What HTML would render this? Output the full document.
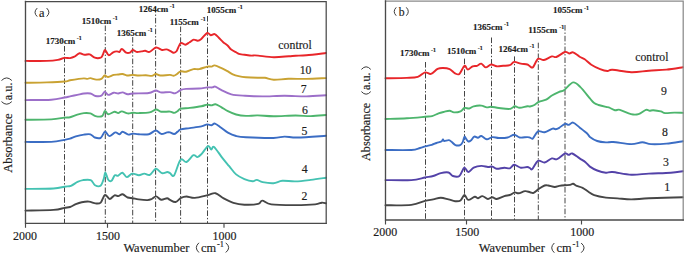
<!DOCTYPE html>
<html><head><meta charset="utf-8"><title>FTIR spectra</title>
<style>html,body{margin:0;padding:0;background:#fff;width:685px;height:254px;overflow:hidden}svg{display:block}</style>
</head><body>
<svg width="685" height="254" viewBox="0 0 685 254">
<style>text{stroke:#1c1c1c;stroke-width:0.17px;paint-order:stroke}text[font-weight=bold]{stroke-width:0.15px}</style>
<rect width="685" height="254" fill="#fff"/>
<line x1="64.5" y1="46.0" x2="64.5" y2="223.3" stroke="#444" stroke-width="1" stroke-dasharray="5.6 1.9 1.4 1.9"/>
<line x1="105.3" y1="25.5" x2="105.3" y2="223.3" stroke="#444" stroke-width="1" stroke-dasharray="5.6 1.9 1.4 1.9"/>
<line x1="132.7" y1="37.0" x2="132.7" y2="223.3" stroke="#444" stroke-width="1" stroke-dasharray="5.6 1.9 1.4 1.9"/>
<line x1="155.6" y1="7.0" x2="155.6" y2="223.3" stroke="#444" stroke-width="1" stroke-dasharray="5.6 1.9 1.4 1.9"/>
<line x1="180.6" y1="26.5" x2="180.6" y2="223.3" stroke="#444" stroke-width="1" stroke-dasharray="5.6 1.9 1.4 1.9"/>
<line x1="207.5" y1="16.0" x2="207.5" y2="223.3" stroke="#444" stroke-width="1" stroke-dasharray="5.6 1.9 1.4 1.9"/>
<line x1="425.5" y1="62.0" x2="425.5" y2="220.0" stroke="#444" stroke-width="1" stroke-dasharray="5.6 1.9 1.4 1.9"/>
<line x1="464.5" y1="58.6" x2="464.5" y2="220.0" stroke="#444" stroke-width="1" stroke-dasharray="5.6 1.9 1.4 1.9"/>
<line x1="491.5" y1="37.5" x2="491.5" y2="220.0" stroke="#444" stroke-width="1" stroke-dasharray="5.6 1.9 1.4 1.9"/>
<line x1="514.5" y1="56.4" x2="514.5" y2="220.0" stroke="#444" stroke-width="1" stroke-dasharray="5.6 1.9 1.4 1.9"/>
<line x1="538.3" y1="42.7" x2="538.3" y2="220.0" stroke="#444" stroke-width="1" stroke-dasharray="5.6 1.9 1.4 1.9"/>
<line x1="565.0" y1="25.0" x2="565.0" y2="220.0" stroke="#444" stroke-width="1" stroke-dasharray="5.6 1.9 1.4 1.9"/>
<path d="M25.50,60.90 C29.07,60.90 41.52,61.07 46.90,60.90 C52.28,60.73 54.88,60.40 57.80,59.90 C60.72,59.40 62.37,58.20 64.40,57.90 C66.43,57.60 68.33,58.30 70.00,58.10 C71.67,57.90 72.82,57.50 74.40,56.70 C75.98,55.90 77.80,53.62 79.50,53.30 C81.20,52.98 82.90,54.63 84.60,54.80 C86.30,54.97 88.00,53.82 89.70,54.30 C91.40,54.78 92.97,57.13 94.80,57.70 C96.63,58.27 99.37,58.18 100.70,57.70 C102.03,57.22 102.08,56.08 102.80,54.80 C103.52,53.52 104.02,49.93 105.00,50.00 C105.98,50.07 107.35,54.82 108.70,55.20 C110.05,55.58 111.77,52.93 113.10,52.30 C114.43,51.67 115.62,51.47 116.70,51.40 C117.78,51.33 118.75,52.32 119.60,51.90 C120.45,51.48 120.70,48.78 121.80,48.90 C122.90,49.02 124.85,51.98 126.20,52.60 C127.55,53.22 128.80,53.03 129.90,52.60 C131.00,52.17 131.72,50.12 132.80,50.00 C133.88,49.88 134.95,51.67 136.40,51.90 C137.85,52.13 140.03,51.58 141.50,51.40 C142.97,51.22 143.85,50.72 145.20,50.80 C146.55,50.88 147.78,52.45 149.60,51.90 C151.42,51.35 154.03,47.82 156.10,47.50 C158.17,47.18 160.28,49.68 162.00,50.00 C163.72,50.32 165.07,49.27 166.40,49.40 C167.73,49.53 168.80,50.25 170.00,50.80 C171.20,51.35 172.52,52.62 173.60,52.70 C174.68,52.78 175.33,52.88 176.50,51.30 C177.67,49.72 179.13,44.30 180.60,43.20 C182.07,42.10 183.80,44.87 185.30,44.70 C186.80,44.53 188.20,43.05 189.60,42.20 C191.00,41.35 192.35,39.83 193.70,39.60 C195.05,39.37 196.43,40.92 197.70,40.80 C198.97,40.68 199.72,40.20 201.30,38.90 C202.88,37.60 205.62,33.62 207.20,33.00 C208.78,32.38 209.55,35.02 210.80,35.20 C212.05,35.38 213.37,33.67 214.70,34.10 C216.03,34.53 217.38,36.45 218.80,37.80 C220.22,39.15 221.73,40.92 223.20,42.20 C224.67,43.48 226.27,44.27 227.60,45.50 C228.93,46.73 229.73,48.43 231.20,49.60 C232.67,50.77 234.93,51.73 236.40,52.50 C237.87,53.27 238.63,53.82 240.00,54.20 C241.37,54.58 242.67,54.57 244.60,54.80 C246.53,55.03 250.02,55.50 251.60,55.60 C253.18,55.70 253.00,55.40 254.10,55.40 C255.20,55.40 254.92,55.30 258.20,55.60 C261.48,55.90 268.68,57.10 273.80,57.20 C278.92,57.30 285.25,56.45 288.90,56.20 C292.55,55.95 292.78,55.87 295.70,55.70 C298.62,55.53 301.35,55.65 306.40,55.20 C311.45,54.75 322.73,53.37 326.00,53.00" fill="none" stroke="#e8262a" stroke-width="1.9" stroke-linejoin="round" stroke-linecap="round"/>
<path d="M25.50,82.80 C29.07,82.73 40.42,82.62 46.90,82.40 C53.38,82.18 60.55,81.85 64.40,81.50 C68.25,81.15 67.60,80.73 70.00,80.30 C72.40,79.87 76.48,79.22 78.80,78.90 C81.12,78.58 82.45,78.40 83.90,78.40 C85.35,78.40 86.42,78.95 87.50,78.90 C88.58,78.85 88.93,77.98 90.40,78.10 C91.87,78.22 94.47,79.47 96.30,79.60 C98.13,79.73 100.00,79.58 101.40,78.90 C102.80,78.22 103.57,75.82 104.70,75.50 C105.83,75.18 106.68,77.10 108.20,77.00 C109.72,76.90 112.13,75.32 113.80,74.90 C115.47,74.48 116.73,74.65 118.20,74.50 C119.67,74.35 121.15,73.83 122.60,74.00 C124.05,74.17 125.20,75.35 126.90,75.50 C128.60,75.65 130.85,74.90 132.80,74.90 C134.75,74.90 136.42,75.45 138.60,75.50 C140.78,75.55 143.70,75.13 145.90,75.20 C148.10,75.27 150.15,76.10 151.80,75.90 C153.45,75.70 154.35,74.07 155.80,74.00 C157.25,73.93 158.13,75.35 160.50,75.50 C162.87,75.65 167.82,74.85 170.00,74.90 C172.18,74.95 172.50,75.90 173.60,75.80 C174.70,75.70 175.45,75.03 176.60,74.30 C177.75,73.57 178.92,71.83 180.50,71.40 C182.08,70.97 183.95,72.08 186.10,71.70 C188.25,71.32 191.22,69.53 193.40,69.10 C195.58,68.67 196.90,69.52 199.20,69.10 C201.50,68.68 205.13,67.02 207.20,66.60 C209.27,66.18 210.38,66.80 211.60,66.60 C212.82,66.40 213.03,65.23 214.50,65.40 C215.97,65.57 218.33,66.68 220.40,67.60 C222.47,68.52 224.83,69.78 226.90,70.90 C228.97,72.02 230.85,73.43 232.80,74.30 C234.75,75.17 236.42,75.62 238.60,76.10 C240.78,76.58 242.73,76.92 245.90,77.20 C249.07,77.48 254.43,77.70 257.60,77.80 C260.77,77.90 262.20,77.47 264.90,77.80 C267.60,78.13 269.88,79.63 273.80,79.80 C277.72,79.97 282.97,78.95 288.40,78.80 C293.83,78.65 300.13,79.02 306.40,78.90 C312.67,78.78 322.73,78.23 326.00,78.10" fill="none" stroke="#c9a232" stroke-width="1.9" stroke-linejoin="round" stroke-linecap="round"/>
<path d="M25.50,100.10 C29.80,100.03 44.82,100.13 51.30,99.70 C57.78,99.27 61.28,98.05 64.40,97.50 C67.52,96.95 67.85,96.83 70.00,96.40 C72.15,95.97 74.98,95.38 77.30,94.90 C79.62,94.42 81.72,93.73 83.90,93.50 C86.08,93.27 88.47,93.08 90.40,93.50 C92.33,93.92 93.67,95.63 95.50,96.00 C97.33,96.37 99.87,96.43 101.40,95.70 C102.93,94.97 103.57,91.73 104.70,91.60 C105.83,91.47 106.68,94.72 108.20,94.90 C109.72,95.08 112.13,92.93 113.80,92.70 C115.47,92.47 116.73,93.55 118.20,93.50 C119.67,93.45 121.02,92.28 122.60,92.40 C124.18,92.52 126.00,94.02 127.70,94.20 C129.40,94.38 129.28,93.70 132.80,93.50 C136.32,93.30 144.97,93.50 148.80,93.00 C152.63,92.50 153.85,90.60 155.80,90.50 C157.75,90.40 158.13,92.13 160.50,92.40 C162.87,92.67 167.57,91.95 170.00,92.10 C172.43,92.25 173.28,93.67 175.10,93.30 C176.92,92.93 179.07,90.63 180.90,89.90 C182.73,89.17 183.05,89.13 186.10,88.90 C189.15,88.67 195.68,88.75 199.20,88.50 C202.72,88.25 205.02,87.58 207.20,87.40 C209.38,87.22 210.95,87.53 212.30,87.40 C213.65,87.27 213.83,86.18 215.30,86.60 C216.77,87.02 218.43,88.62 221.10,89.90 C223.77,91.18 227.32,93.32 231.30,94.30 C235.28,95.28 239.78,95.45 245.00,95.80 C250.22,96.15 256.02,96.40 262.60,96.40 C269.18,96.40 277.20,95.80 284.50,95.80 C291.80,95.80 299.48,96.48 306.40,96.40 C313.32,96.32 322.73,95.48 326.00,95.30" fill="none" stroke="#9c6fc9" stroke-width="1.9" stroke-linejoin="round" stroke-linecap="round"/>
<path d="M25.50,119.80 C29.80,119.73 44.82,119.77 51.30,119.40 C57.78,119.03 61.28,117.97 64.40,117.60 C67.52,117.23 67.85,117.70 70.00,117.20 C72.15,116.70 74.98,115.28 77.30,114.60 C79.62,113.92 81.72,113.30 83.90,113.10 C86.08,112.90 88.47,112.90 90.40,113.40 C92.33,113.90 93.55,115.65 95.50,116.10 C97.45,116.55 100.52,116.97 102.10,116.10 C103.68,115.23 103.98,111.20 105.00,110.90 C106.02,110.60 106.62,114.17 108.20,114.30 C109.78,114.43 112.83,111.90 114.50,111.70 C116.17,111.50 116.98,113.15 118.20,113.10 C119.42,113.05 120.22,111.35 121.80,111.40 C123.38,111.45 125.87,113.17 127.70,113.40 C129.53,113.63 130.98,112.85 132.80,112.80 C134.62,112.75 135.80,113.17 138.60,113.10 C141.40,113.03 146.68,113.00 149.60,112.40 C152.52,111.80 154.17,109.62 156.10,109.50 C158.03,109.38 158.88,111.35 161.20,111.70 C163.52,112.05 167.85,111.40 170.00,111.60 C172.15,111.80 172.87,112.97 174.10,112.90 C175.33,112.83 176.30,111.90 177.40,111.20 C178.50,110.50 178.63,109.25 180.70,108.70 C182.77,108.15 186.35,108.30 189.80,107.90 C193.25,107.50 198.50,106.85 201.40,106.30 C204.30,105.75 205.55,104.75 207.20,104.60 C208.85,104.45 209.92,105.45 211.30,105.40 C212.68,105.35 213.85,104.02 215.50,104.30 C217.15,104.58 219.13,105.95 221.20,107.10 C223.27,108.25 225.42,109.97 227.90,111.20 C230.38,112.43 233.08,113.72 236.10,114.50 C239.12,115.28 242.42,115.75 246.00,115.90 C249.58,116.05 253.02,115.33 257.60,115.40 C262.18,115.47 267.20,116.28 273.50,116.30 C279.80,116.32 289.18,115.53 295.40,115.50 C301.62,115.47 305.70,116.18 310.80,116.10 C315.90,116.02 323.47,115.18 326.00,115.00" fill="none" stroke="#4db56d" stroke-width="1.9" stroke-linejoin="round" stroke-linecap="round"/>
<path d="M25.50,141.90 C29.80,141.90 44.82,142.23 51.30,141.90 C57.78,141.57 61.28,140.43 64.40,139.90 C67.52,139.37 68.10,139.28 70.00,138.70 C71.90,138.12 73.48,137.08 75.80,136.40 C78.12,135.72 81.47,134.95 83.90,134.60 C86.33,134.25 88.58,133.82 90.40,134.30 C92.22,134.78 93.08,136.92 94.80,137.50 C96.52,138.08 99.00,138.77 100.70,137.80 C102.40,136.83 103.55,131.98 105.00,131.70 C106.45,131.42 107.68,135.98 109.40,136.10 C111.12,136.22 113.60,132.70 115.30,132.40 C117.00,132.10 118.38,134.42 119.60,134.30 C120.82,134.18 121.13,131.65 122.60,131.70 C124.07,131.75 126.70,134.28 128.40,134.60 C130.10,134.92 131.10,133.65 132.80,133.60 C134.50,133.55 135.93,134.20 138.60,134.30 C141.27,134.40 145.93,134.83 148.80,134.20 C151.67,133.57 153.73,130.55 155.80,130.50 C157.87,130.45 159.32,133.58 161.20,133.90 C163.08,134.22 165.63,132.65 167.10,132.40 C168.57,132.15 168.83,132.13 170.00,132.40 C171.17,132.67 172.87,134.08 174.10,134.00 C175.33,133.92 176.30,132.67 177.40,131.90 C178.50,131.13 178.63,130.03 180.70,129.40 C182.77,128.77 186.35,128.60 189.80,128.10 C193.25,127.60 198.50,127.02 201.40,126.40 C204.30,125.78 205.55,124.58 207.20,124.40 C208.85,124.22 210.00,125.43 211.30,125.30 C212.60,125.17 213.35,123.18 215.00,123.60 C216.65,124.02 219.05,126.28 221.20,127.80 C223.35,129.32 225.42,131.33 227.90,132.70 C230.38,134.07 233.08,135.23 236.10,136.00 C239.12,136.77 239.77,136.97 246.00,137.30 C252.23,137.63 267.08,138.12 273.50,138.00 C279.92,137.88 280.48,136.68 284.50,136.60 C288.52,136.52 290.68,137.63 297.60,137.50 C304.52,137.37 321.27,136.08 326.00,135.80" fill="none" stroke="#3b6dc4" stroke-width="1.9" stroke-linejoin="round" stroke-linecap="round"/>
<path d="M25.50,188.90 C30.17,188.83 47.02,188.87 53.50,188.50 C59.98,188.13 61.48,187.15 64.40,186.70 C67.32,186.25 68.82,186.60 71.00,185.80 C73.18,185.00 75.50,182.85 77.50,181.90 C79.50,180.95 80.80,180.40 83.00,180.10 C85.20,179.80 88.70,179.25 90.70,180.10 C92.70,180.95 93.37,184.25 95.00,185.20 C96.63,186.15 99.03,186.90 100.50,185.80 C101.97,184.70 102.98,180.78 103.80,178.60 C104.62,176.42 104.67,172.52 105.40,172.70 C106.13,172.88 107.18,178.35 108.20,179.70 C109.22,181.05 110.40,181.53 111.50,180.80 C112.60,180.07 113.72,176.13 114.80,175.30 C115.88,174.47 116.73,176.23 118.00,175.80 C119.27,175.37 120.93,172.48 122.40,172.70 C123.87,172.92 125.15,176.95 126.80,177.10 C128.45,177.25 130.28,173.90 132.30,173.60 C134.32,173.30 136.90,175.30 138.90,175.30 C140.90,175.30 142.48,173.67 144.30,173.60 C146.12,173.53 147.87,175.70 149.80,174.90 C151.73,174.10 153.88,169.10 155.90,168.80 C157.92,168.50 160.00,172.57 161.90,173.10 C163.80,173.63 165.95,172.00 167.30,172.00 C168.65,172.00 168.87,172.55 170.00,173.10 C171.13,173.65 172.35,177.52 174.10,175.30 C175.85,173.08 178.43,162.02 180.50,159.80 C182.57,157.58 184.35,162.77 186.50,162.00 C188.65,161.23 191.57,156.02 193.40,155.20 C195.23,154.38 196.12,157.33 197.50,157.10 C198.88,156.87 199.95,155.63 201.70,153.80 C203.45,151.97 206.40,146.80 208.00,146.10 C209.60,145.40 210.28,149.47 211.30,149.60 C212.32,149.73 212.27,145.52 214.10,146.90 C215.93,148.28 219.78,154.68 222.30,157.90 C224.82,161.12 226.90,163.45 229.20,166.20 C231.50,168.95 233.57,172.25 236.10,174.40 C238.63,176.55 241.65,177.95 244.40,179.10 C247.15,180.25 250.53,181.17 252.60,181.30 C254.67,181.43 255.13,179.77 256.80,179.90 C258.47,180.03 259.82,181.55 262.60,182.10 C265.38,182.65 270.22,183.42 273.50,183.20 C276.78,182.98 278.65,181.10 282.30,180.80 C285.95,180.50 290.65,181.55 295.40,181.40 C300.15,181.25 305.70,180.52 310.80,179.90 C315.90,179.28 323.47,178.07 326.00,177.70" fill="none" stroke="#44c2b2" stroke-width="1.9" stroke-linejoin="round" stroke-linecap="round"/>
<path d="M25.50,210.60 C30.17,210.48 47.02,210.35 53.50,209.90 C59.98,209.45 61.65,208.38 64.40,207.90 C67.15,207.42 68.10,207.63 70.00,207.00 C71.90,206.37 73.85,204.90 75.80,204.10 C77.75,203.30 79.50,202.62 81.70,202.20 C83.90,201.78 86.70,201.40 89.00,201.60 C91.30,201.80 93.55,203.23 95.50,203.40 C97.45,203.57 99.12,204.02 100.70,202.60 C102.28,201.18 103.50,195.50 105.00,194.90 C106.50,194.30 108.12,198.93 109.70,199.00 C111.28,199.07 113.08,195.78 114.50,195.30 C115.92,194.82 116.85,196.27 118.20,196.10 C119.55,195.93 121.02,194.07 122.60,194.30 C124.18,194.53 126.00,196.85 127.70,197.50 C129.40,198.15 130.98,197.88 132.80,198.20 C134.62,198.52 136.17,199.08 138.60,199.40 C141.03,199.72 145.20,200.17 147.40,200.10 C149.60,200.03 150.35,199.62 151.80,199.00 C153.25,198.38 154.53,196.28 156.10,196.40 C157.67,196.52 159.37,199.40 161.20,199.70 C163.03,200.00 165.63,198.17 167.10,198.20 C168.57,198.23 168.60,199.27 170.00,199.90 C171.40,200.53 173.67,202.33 175.50,202.00 C177.33,201.67 179.17,198.82 181.00,197.90 C182.83,196.98 184.20,196.50 186.50,196.50 C188.80,196.50 191.22,198.13 194.80,197.90 C198.38,197.67 204.55,195.88 208.00,195.10 C211.45,194.32 212.88,192.65 215.50,193.20 C218.12,193.75 220.72,196.80 223.70,198.40 C226.68,200.00 229.95,201.75 233.40,202.80 C236.85,203.85 240.27,204.52 244.40,204.70 C248.53,204.88 255.22,204.58 258.20,203.90 C261.18,203.22 260.12,200.52 262.30,200.60 C264.48,200.68 265.78,203.65 271.30,204.40 C276.82,205.15 288.10,205.10 295.40,205.10 C302.70,205.10 310.72,204.80 315.10,204.40 C319.48,204.00 319.88,202.88 321.70,202.70 C323.52,202.52 325.28,203.20 326.00,203.30" fill="none" stroke="#464646" stroke-width="1.9" stroke-linejoin="round" stroke-linecap="round"/>
<path d="M385.50,78.30 C389.07,78.23 401.52,78.15 406.90,77.90 C412.28,77.65 414.77,77.72 417.80,76.80 C420.83,75.88 422.90,72.88 425.10,72.40 C427.30,71.92 428.92,74.48 431.00,73.90 C433.08,73.32 435.60,69.88 437.60,68.90 C439.60,67.92 441.00,67.97 443.00,68.00 C445.00,68.03 447.58,68.22 449.60,69.10 C451.62,69.98 453.47,72.50 455.10,73.30 C456.73,74.10 457.83,75.15 459.40,73.90 C460.97,72.65 463.10,66.52 464.50,65.80 C465.90,65.08 466.45,69.52 467.80,69.60 C469.15,69.68 471.07,66.93 472.60,66.30 C474.13,65.67 475.55,66.25 477.00,65.80 C478.45,65.35 479.85,63.33 481.30,63.60 C482.75,63.87 484.05,67.25 485.70,67.40 C487.35,67.55 489.37,64.68 491.20,64.50 C493.03,64.32 494.70,66.08 496.70,66.30 C498.70,66.52 501.02,65.98 503.20,65.80 C505.38,65.62 507.97,65.85 509.80,65.20 C511.63,64.55 512.37,62.17 514.20,61.90 C516.03,61.63 518.62,63.17 520.80,63.60 C522.98,64.03 525.77,64.03 527.30,64.50 C528.83,64.97 529.05,65.95 530.00,66.40 C530.95,66.85 531.67,68.45 533.00,67.20 C534.33,65.95 536.18,60.10 538.00,58.90 C539.82,57.70 541.58,60.42 543.90,60.00 C546.22,59.58 549.83,56.90 551.90,56.40 C553.97,55.90 554.12,57.73 556.30,57.00 C558.48,56.27 562.82,52.58 565.00,52.00 C567.18,51.42 568.05,53.45 569.40,53.50 C570.75,53.55 571.40,51.77 573.10,52.30 C574.80,52.83 577.67,55.53 579.60,56.70 C581.53,57.87 582.75,57.97 584.70,59.30 C586.65,60.63 588.73,63.07 591.30,64.70 C593.87,66.33 597.42,68.05 600.10,69.10 C602.78,70.15 605.33,70.88 607.40,71.00 C609.47,71.12 608.52,69.60 612.50,69.80 C616.48,70.00 625.23,72.05 631.30,72.20 C637.37,72.35 643.05,71.13 648.90,70.70 C654.75,70.27 660.72,70.18 666.40,69.60 C672.08,69.02 680.23,67.60 683.00,67.20" fill="none" stroke="#e8262a" stroke-width="1.9" stroke-linejoin="round" stroke-linecap="round"/>
<path d="M385.50,119.00 C389.07,118.88 400.30,118.67 406.90,118.30 C413.50,117.93 420.90,117.17 425.10,116.80 C429.30,116.43 429.85,116.68 432.10,116.10 C434.35,115.52 436.60,114.02 438.60,113.30 C440.60,112.58 442.27,112.23 444.10,111.80 C445.93,111.37 447.95,110.60 449.60,110.70 C451.25,110.80 452.18,112.30 454.00,112.40 C455.82,112.50 458.75,112.03 460.50,111.30 C462.25,110.57 463.03,108.47 464.50,108.00 C465.97,107.53 467.77,108.78 469.30,108.50 C470.83,108.22 471.70,106.78 473.70,106.30 C475.70,105.82 479.12,105.42 481.30,105.60 C483.48,105.78 485.15,107.22 486.80,107.40 C488.45,107.58 489.18,106.60 491.20,106.70 C493.22,106.80 495.80,107.63 498.90,108.00 C502.00,108.37 507.15,109.18 509.80,108.90 C512.45,108.62 513.15,106.48 514.80,106.30 C516.45,106.12 517.62,107.80 519.70,107.80 C521.78,107.80 525.58,106.52 527.30,106.30 C529.02,106.08 528.82,106.72 530.00,106.50 C531.18,106.28 532.93,105.78 534.40,105.00 C535.87,104.22 536.85,102.70 538.80,101.80 C540.75,100.90 543.92,100.65 546.10,99.60 C548.28,98.55 549.72,96.78 551.90,95.50 C554.08,94.22 557.13,92.82 559.20,91.90 C561.27,90.98 561.98,91.58 564.30,90.00 C566.62,88.42 570.42,82.88 573.10,82.40 C575.78,81.92 577.60,84.43 580.40,87.10 C583.20,89.77 587.60,95.73 589.90,98.40 C592.20,101.07 592.75,102.00 594.20,103.10 C595.65,104.20 596.65,104.37 598.60,105.00 C600.55,105.63 604.20,106.50 605.90,106.90 C607.60,107.30 607.30,106.85 608.80,107.40 C610.30,107.95 613.05,109.80 614.90,110.20 C616.75,110.60 617.22,109.15 619.90,109.80 C622.58,110.45 627.90,113.38 631.00,114.10 C634.10,114.82 636.02,114.82 638.50,114.10 C640.98,113.38 644.05,110.37 645.90,109.80 C647.75,109.23 648.37,110.63 649.60,110.70 C650.83,110.77 651.43,110.08 653.30,110.20 C655.17,110.32 658.83,110.92 660.80,111.40 C662.77,111.88 662.83,112.90 665.10,113.10 C667.37,113.30 671.42,112.63 674.40,112.60 C677.38,112.57 681.57,112.85 683.00,112.90" fill="none" stroke="#4db56d" stroke-width="1.9" stroke-linejoin="round" stroke-linecap="round"/>
<path d="M385.50,150.00 C389.80,150.00 405.55,150.33 411.30,150.00 C417.05,149.67 417.67,148.62 420.00,148.00 C422.33,147.38 423.33,146.83 425.30,146.30 C427.27,145.77 429.93,145.35 431.80,144.80 C433.67,144.25 434.92,143.55 436.50,143.00 C438.08,142.45 440.22,142.10 441.30,141.50 C442.38,140.90 442.52,139.48 443.00,139.40 C443.48,139.32 443.22,140.88 444.20,141.00 C445.18,141.12 447.62,139.92 448.90,140.10 C450.18,140.28 450.82,141.27 451.90,142.10 C452.98,142.93 454.03,144.60 455.40,145.10 C456.77,145.60 458.88,145.60 460.10,145.10 C461.32,144.60 461.97,143.48 462.70,142.10 C463.43,140.72 463.90,137.28 464.50,136.80 C465.10,136.32 465.65,138.42 466.30,139.20 C466.95,139.98 467.65,141.27 468.40,141.50 C469.15,141.73 469.82,141.42 470.80,140.60 C471.78,139.78 473.12,137.07 474.30,136.60 C475.48,136.13 476.73,137.90 477.90,137.80 C479.07,137.70 479.82,135.75 481.30,136.00 C482.78,136.25 484.97,139.12 486.80,139.30 C488.63,139.48 490.28,137.32 492.30,137.10 C494.32,136.88 496.35,137.93 498.90,138.00 C501.45,138.07 505.05,138.05 507.60,137.50 C510.15,136.95 512.18,134.70 514.20,134.70 C516.22,134.70 517.52,137.10 519.70,137.50 C521.88,137.90 525.58,137.08 527.30,137.10 C529.02,137.12 529.07,137.38 530.00,137.60 C530.93,137.82 531.57,139.43 532.90,138.40 C534.23,137.37 536.05,132.43 538.00,131.40 C539.95,130.37 542.17,132.67 544.60,132.20 C547.03,131.73 550.78,129.10 552.60,128.60 C554.42,128.10 554.40,129.33 555.50,129.20 C556.60,129.07 557.62,128.70 559.20,127.80 C560.78,126.90 563.42,124.28 565.00,123.80 C566.58,123.32 567.35,125.10 568.70,124.90 C570.05,124.70 571.28,122.18 573.10,122.60 C574.92,123.02 577.30,125.63 579.60,127.40 C581.90,129.17 585.18,131.62 586.90,133.20 C588.62,134.78 588.18,135.60 589.90,136.90 C591.62,138.20 594.53,140.08 597.20,141.00 C599.87,141.92 603.23,142.23 605.90,142.40 C608.57,142.57 608.97,141.72 613.20,142.00 C617.43,142.28 626.45,144.05 631.30,144.10 C636.15,144.15 639.02,142.30 642.30,142.30 C645.58,142.30 646.98,143.88 651.00,144.10 C655.02,144.32 661.07,144.08 666.40,143.60 C671.73,143.12 680.23,141.60 683.00,141.20" fill="none" stroke="#3b6dc4" stroke-width="1.9" stroke-linejoin="round" stroke-linecap="round"/>
<path d="M385.50,180.10 C389.80,180.10 404.70,180.53 411.30,180.10 C417.90,179.67 421.45,178.18 425.10,177.50 C428.75,176.82 430.58,176.73 433.20,176.00 C435.82,175.27 438.25,173.68 440.80,173.10 C443.35,172.52 446.48,172.02 448.50,172.50 C450.52,172.98 451.08,175.42 452.90,176.00 C454.72,176.58 457.50,177.38 459.40,176.00 C461.30,174.62 462.83,168.37 464.30,167.70 C465.77,167.03 466.63,172.00 468.20,172.00 C469.77,172.00 471.52,168.72 473.70,167.70 C475.88,166.68 478.93,166.02 481.30,165.90 C483.67,165.78 486.07,166.88 487.90,167.00 C489.73,167.12 490.83,166.30 492.30,166.60 C493.77,166.90 494.70,168.62 496.70,168.80 C498.70,168.98 502.12,167.78 504.30,167.70 C506.48,167.62 508.15,168.78 509.80,168.30 C511.45,167.82 512.37,164.90 514.20,164.80 C516.03,164.70 518.62,167.33 520.80,167.70 C522.98,168.07 525.77,166.93 527.30,167.00 C528.83,167.07 529.18,167.75 530.00,168.10 C530.82,168.45 530.87,170.32 532.20,169.10 C533.53,167.88 535.93,161.90 538.00,160.80 C540.07,159.70 542.28,162.90 544.60,162.50 C546.92,162.10 549.83,158.95 551.90,158.40 C553.97,157.85 554.82,160.02 557.00,159.20 C559.18,158.38 563.05,154.22 565.00,153.50 C566.95,152.78 567.48,154.90 568.70,154.90 C569.92,154.90 570.48,152.92 572.30,153.50 C574.12,154.08 577.40,156.95 579.60,158.40 C581.80,159.85 583.78,160.83 585.50,162.20 C587.22,163.57 587.95,165.22 589.90,166.60 C591.85,167.98 594.53,169.48 597.20,170.50 C599.87,171.52 603.35,172.45 605.90,172.70 C608.45,172.95 608.27,171.67 612.50,172.00 C616.73,172.33 625.23,174.43 631.30,174.70 C637.37,174.97 642.32,173.93 648.90,173.60 C655.48,173.27 665.12,173.10 670.80,172.70 C676.48,172.30 680.97,171.45 683.00,171.20" fill="none" stroke="#5342a8" stroke-width="1.9" stroke-linejoin="round" stroke-linecap="round"/>
<path d="M385.50,205.30 C389.80,205.23 404.70,205.63 411.30,204.90 C417.90,204.17 421.45,201.82 425.10,200.90 C428.75,199.98 430.58,199.93 433.20,199.40 C435.82,198.87 438.25,197.70 440.80,197.70 C443.35,197.70 446.12,198.82 448.50,199.40 C450.88,199.98 453.10,201.02 455.10,201.20 C457.10,201.38 458.93,201.53 460.50,200.50 C462.07,199.47 463.22,195.10 464.50,195.00 C465.78,194.90 466.48,199.60 468.20,199.90 C469.92,200.20 473.15,197.07 474.80,196.80 C476.45,196.53 476.83,198.42 478.10,198.30 C479.37,198.18 480.77,195.98 482.40,196.10 C484.03,196.22 486.25,198.82 487.90,199.00 C489.55,199.18 490.83,197.20 492.30,197.20 C493.77,197.20 494.70,199.18 496.70,199.00 C498.70,198.82 502.12,196.77 504.30,196.10 C506.48,195.43 508.05,195.62 509.80,195.00 C511.55,194.38 513.33,192.68 514.80,192.40 C516.27,192.12 516.88,193.52 518.60,193.30 C520.32,193.08 523.20,191.28 525.10,191.10 C527.00,190.92 528.58,191.92 530.00,192.20 C531.42,192.48 532.13,193.35 533.60,192.80 C535.07,192.25 536.97,190.12 538.80,188.90 C540.63,187.68 543.03,186.07 544.60,185.50 C546.17,184.93 546.50,185.25 548.20,185.50 C549.90,185.75 552.97,186.93 554.80,187.00 C556.63,187.07 557.50,186.20 559.20,185.90 C560.90,185.60 563.18,185.37 565.00,185.20 C566.82,185.03 568.75,185.13 570.10,184.90 C571.45,184.67 572.00,183.63 573.10,183.80 C574.20,183.97 575.12,185.23 576.70,185.90 C578.28,186.57 580.65,186.82 582.60,187.80 C584.55,188.78 586.47,190.58 588.40,191.80 C590.33,193.02 591.28,194.13 594.20,195.10 C597.12,196.07 602.00,197.05 605.90,197.60 C609.80,198.15 613.37,198.10 617.60,198.40 C621.83,198.70 626.08,199.42 631.30,199.40 C636.52,199.38 640.28,198.67 648.90,198.30 C657.52,197.93 677.32,197.38 683.00,197.20" fill="none" stroke="#464646" stroke-width="1.9" stroke-linejoin="round" stroke-linecap="round"/>
<path d="M25.5,1.5 H326.2 V223.3" fill="none" stroke="#4a4a4a" stroke-width="1.25" stroke-linecap="square"/>
<path d="M25.5,1.5 V223.3 H326.2" fill="none" stroke="#4a4a4a" stroke-width="1.35" stroke-linecap="square"/>
<line x1="25.5" y1="223.3" x2="25.5" y2="227.8" stroke="#4a4a4a" stroke-width="1.15"/>
<line x1="107.5" y1="223.3" x2="107.5" y2="227.8" stroke="#4a4a4a" stroke-width="1.15"/>
<line x1="224.0" y1="223.3" x2="224.0" y2="227.8" stroke="#4a4a4a" stroke-width="1.15"/>
<path d="M385.5,1.0 H683.2 V220.0" fill="none" stroke="#8a8a8a" stroke-width="1.25" stroke-linecap="square"/>
<path d="M385.5,1.0 V220.0 H683.2" fill="none" stroke="#4a4a4a" stroke-width="1.35" stroke-linecap="square"/>
<line x1="385.5" y1="220.0" x2="385.5" y2="224.5" stroke="#4a4a4a" stroke-width="1.15"/>
<line x1="466.5" y1="220.0" x2="466.5" y2="224.5" stroke="#4a4a4a" stroke-width="1.15"/>
<line x1="581.5" y1="220.0" x2="581.5" y2="224.5" stroke="#4a4a4a" stroke-width="1.15"/>
<path d="M36.92,8.38 Q32.83,12.35 36.92,16.32" fill="none" stroke="#303030" stroke-width="0.95" stroke-linecap="round"/>
<text x="38.97" y="17.10" font-family='"Liberation Serif", serif' font-size="12.36" fill="#1c1c1c">a</text>
<path d="M46.98,8.38 Q51.07,12.35 46.98,16.32" fill="none" stroke="#303030" stroke-width="0.95" stroke-linecap="round"/>
<path d="M395.92,7.67 Q392.23,11.55 395.92,15.43" fill="none" stroke="#303030" stroke-width="0.95" stroke-linecap="round"/>
<text x="398.70" y="15.90" font-family='"Liberation Serif", serif' font-size="11.74" fill="#1c1c1c">b</text>
<path d="M406.58,7.67 Q410.27,11.55 406.58,15.43" fill="none" stroke="#303030" stroke-width="0.95" stroke-linecap="round"/>
<text x="45.78" y="43.65" font-family='"Liberation Serif", serif' font-size="9.00" font-weight="bold" fill="#1c1c1c">1730cm</text>
<text x="76.72" y="39.85" font-family='"Liberation Serif", serif' font-size="6" font-weight="bold" fill="#1c1c1c">-1</text>
<text x="81.78" y="23.80" font-family='"Liberation Serif", serif' font-size="9.00" font-weight="bold" fill="#1c1c1c">1510cm</text>
<text x="112.72" y="20.00" font-family='"Liberation Serif", serif' font-size="6" font-weight="bold" fill="#1c1c1c">-1</text>
<text x="116.78" y="35.80" font-family='"Liberation Serif", serif' font-size="9.00" font-weight="bold" fill="#1c1c1c">1365cm</text>
<text x="147.72" y="32.00" font-family='"Liberation Serif", serif' font-size="6" font-weight="bold" fill="#1c1c1c">-1</text>
<text x="138.78" y="11.80" font-family='"Liberation Serif", serif' font-size="9.00" font-weight="bold" fill="#1c1c1c">1264cm</text>
<text x="169.72" y="8.00" font-family='"Liberation Serif", serif' font-size="6" font-weight="bold" fill="#1c1c1c">-1</text>
<text x="169.78" y="24.80" font-family='"Liberation Serif", serif' font-size="9.00" font-weight="bold" fill="#1c1c1c">1155cm</text>
<text x="200.72" y="21.00" font-family='"Liberation Serif", serif' font-size="6" font-weight="bold" fill="#1c1c1c">-1</text>
<text x="206.78" y="12.70" font-family='"Liberation Serif", serif' font-size="9.00" font-weight="bold" fill="#1c1c1c">1055cm</text>
<text x="237.72" y="8.90" font-family='"Liberation Serif", serif' font-size="6" font-weight="bold" fill="#1c1c1c">-1</text>
<text x="400.08" y="56.10" font-family='"Liberation Serif", serif' font-size="9.00" font-weight="bold" fill="#1c1c1c">1730cm</text>
<text x="431.02" y="52.30" font-family='"Liberation Serif", serif' font-size="6" font-weight="bold" fill="#1c1c1c">-1</text>
<text x="446.88" y="53.80" font-family='"Liberation Serif", serif' font-size="9.00" font-weight="bold" fill="#1c1c1c">1510cm</text>
<text x="477.82" y="50.00" font-family='"Liberation Serif", serif' font-size="6" font-weight="bold" fill="#1c1c1c">-1</text>
<text x="473.08" y="29.80" font-family='"Liberation Serif", serif' font-size="9.00" font-weight="bold" fill="#1c1c1c">1365cm</text>
<text x="504.02" y="26.00" font-family='"Liberation Serif", serif' font-size="6" font-weight="bold" fill="#1c1c1c">-1</text>
<text x="498.48" y="51.80" font-family='"Liberation Serif", serif' font-size="9.00" font-weight="bold" fill="#1c1c1c">1264cm</text>
<text x="529.42" y="48.00" font-family='"Liberation Serif", serif' font-size="6" font-weight="bold" fill="#1c1c1c">-1</text>
<text x="528.28" y="32.80" font-family='"Liberation Serif", serif' font-size="9.00" font-weight="bold" fill="#1c1c1c">1155cm</text>
<text x="559.22" y="29.00" font-family='"Liberation Serif", serif' font-size="6" font-weight="bold" fill="#1c1c1c">-1</text>
<text x="553.08" y="13.40" font-family='"Liberation Serif", serif' font-size="9.00" font-weight="bold" fill="#1c1c1c">1055cm</text>
<text x="584.02" y="9.60" font-family='"Liberation Serif", serif' font-size="6" font-weight="bold" fill="#1c1c1c">-1</text>
<text x="278.35" y="48.90" font-family='"Liberation Serif", serif' font-size="11.81" fill="#1c1c1c">control</text>
<text x="635.35" y="60.60" font-family='"Liberation Serif", serif' font-size="11.69" fill="#1c1c1c">control</text>
<text x="299.67" y="74.40" font-family='"Liberation Serif", serif' font-size="11.74" fill="#1c1c1c">10</text>
<text x="300.83" y="92.90" font-family='"Liberation Serif", serif' font-size="11.74" fill="#1c1c1c">7</text>
<text x="302.10" y="114.00" font-family='"Liberation Serif", serif' font-size="11.74" fill="#1c1c1c">6</text>
<text x="301.62" y="134.50" font-family='"Liberation Serif", serif' font-size="11.74" fill="#1c1c1c">5</text>
<text x="301.87" y="172.70" font-family='"Liberation Serif", serif' font-size="11.74" fill="#1c1c1c">4</text>
<text x="301.58" y="200.00" font-family='"Liberation Serif", serif' font-size="11.74" fill="#1c1c1c">2</text>
<text x="660.92" y="95.30" font-family='"Liberation Serif", serif' font-size="11.74" fill="#1c1c1c">9</text>
<text x="661.95" y="136.30" font-family='"Liberation Serif", serif' font-size="11.74" fill="#1c1c1c">8</text>
<text x="662.94" y="166.30" font-family='"Liberation Serif", serif' font-size="11.74" fill="#1c1c1c">3</text>
<text x="664.27" y="190.50" font-family='"Liberation Serif", serif' font-size="11.74" fill="#1c1c1c">1</text>
<text x="13.07" y="240.10" font-family='"Liberation Serif", serif' font-size="11.95" fill="#1c1c1c">2000</text>
<text x="96.05" y="240.10" font-family='"Liberation Serif", serif' font-size="11.95" fill="#1c1c1c">1500</text>
<text x="212.55" y="240.10" font-family='"Liberation Serif", serif' font-size="11.95" fill="#1c1c1c">1000</text>
<text x="373.27" y="236.40" font-family='"Liberation Serif", serif' font-size="11.95" fill="#1c1c1c">2000</text>
<text x="455.25" y="236.40" font-family='"Liberation Serif", serif' font-size="11.95" fill="#1c1c1c">1500</text>
<text x="570.25" y="236.40" font-family='"Liberation Serif", serif' font-size="11.95" fill="#1c1c1c">1000</text>
<text x="123.39" y="252.00" font-family='"Liberation Serif", serif' font-size="12.45" fill="#1c1c1c">Wavenumber</text>
<path d="M198.63,243.07 Q193.72,247.65 198.63,252.23" fill="none" stroke="#303030" stroke-width="0.95" stroke-linecap="round"/>
<text x="201.03" y="252.00" font-family='"Liberation Serif", serif' font-size="12.36" fill="#1c1c1c">cm</text>
<text x="217.00" y="247.00" font-family='"Liberation Serif", serif' font-size="8.30" fill="#1c1c1c">-1</text>
<path d="M226.08,243.07 Q231.58,247.65 226.08,252.23" fill="none" stroke="#303030" stroke-width="0.95" stroke-linecap="round"/>
<text x="478.79" y="252.20" font-family='"Liberation Serif", serif' font-size="12.45" fill="#1c1c1c">Wavenumber</text>
<path d="M554.02,243.27 Q549.13,247.85 554.02,252.43" fill="none" stroke="#303030" stroke-width="0.95" stroke-linecap="round"/>
<text x="556.43" y="252.20" font-family='"Liberation Serif", serif' font-size="12.36" fill="#1c1c1c">cm</text>
<text x="572.40" y="247.20" font-family='"Liberation Serif", serif' font-size="8.30" fill="#1c1c1c">-1</text>
<path d="M581.48,243.27 Q586.98,247.85 581.48,252.43" fill="none" stroke="#303030" stroke-width="0.95" stroke-linecap="round"/>
<g transform="translate(12.20,172.60) rotate(-90)">
<text x="-0.12" y="0" font-family='"Liberation Serif", serif' font-size="12.40" fill="#1c1c1c">Absorbance</text>
<text x="72.36" y="0" font-family='"Liberation Serif", serif' font-size="12.40" fill="#1c1c1c">a.u.</text>
</g>
<path d="M1.77,80.23 Q6.65,75.32 11.53,80.23" fill="none" stroke="#303030" stroke-width="0.95" stroke-linecap="round"/>
<path d="M1.77,101.88 Q6.65,106.78 11.53,101.88" fill="none" stroke="#303030" stroke-width="0.95" stroke-linecap="round"/>
<g transform="translate(370.30,160.90) rotate(-90)">
<text x="-0.12" y="0" font-family='"Liberation Serif", serif' font-size="12.20" fill="#1c1c1c">Absorbance</text>
<text x="70.87" y="0" font-family='"Liberation Serif", serif' font-size="12.20" fill="#1c1c1c">a.u.</text>
</g>
<path d="M361.68,69.12 Q366.10,64.22 370.52,69.12" fill="none" stroke="#303030" stroke-width="0.95" stroke-linecap="round"/>
<path d="M361.68,91.88 Q366.10,96.78 370.52,91.88" fill="none" stroke="#303030" stroke-width="0.95" stroke-linecap="round"/>
</svg>
</body></html>
